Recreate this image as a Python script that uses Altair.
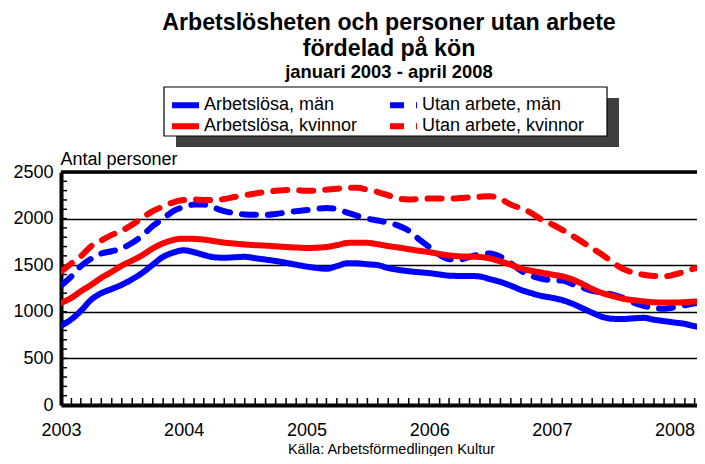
import altair as alt
import pandas as pd

# ---- data ----
months = pd.date_range("2003-01-01", "2008-04-01", freq="MS").strftime("%Y-%m-%d").tolist()

arbetslosa_man = [850, 920, 1010, 1130, 1200, 1245, 1290, 1350, 1420, 1505, 1590, 1635,
                  1660, 1640, 1610, 1585, 1580, 1585, 1590, 1575, 1560, 1545, 1525, 1505,
                  1485, 1470, 1462, 1490, 1520, 1520, 1510, 1500, 1470, 1450, 1435, 1425,
                  1415, 1400, 1388, 1385, 1385, 1378, 1350, 1320, 1280, 1235, 1200, 1170,
                  1150, 1125, 1090, 1040, 990, 945, 925, 922, 930, 935, 915, 900,
                  885, 870, 845, 825]
arbetslosa_kvinnor = [1095, 1150, 1220, 1290, 1365, 1430, 1495, 1550, 1610, 1680, 1735, 1770,
                      1785, 1782, 1775, 1758, 1742, 1732, 1722, 1715, 1710, 1703, 1695, 1690,
                      1685, 1688, 1695, 1715, 1738, 1742, 1740, 1725, 1705, 1690, 1672, 1655,
                      1640, 1620, 1605, 1595, 1592, 1588, 1572, 1540, 1505, 1465, 1440, 1420,
                      1400, 1380, 1350, 1300, 1245, 1200, 1170, 1140, 1125, 1112, 1102, 1100,
                      1100, 1103, 1110, 1115]
utan_arbete_man = [1280, 1380, 1490, 1570, 1625, 1650, 1680, 1740, 1820, 1920, 2000, 2080,
                   2125, 2150, 2150, 2115, 2080, 2058, 2045, 2040, 2040, 2050, 2065, 2080,
                   2092, 2105, 2115, 2100, 2065, 2030, 2000, 1980, 1955, 1925, 1870, 1780,
                   1695, 1610, 1565, 1560, 1590, 1615, 1625, 1590, 1520, 1440, 1385, 1355,
                   1340, 1335, 1300, 1260, 1225, 1205, 1185, 1150, 1100, 1065, 1040, 1032,
                   1050, 1070, 1090, 1110]
utan_arbete_kvinnor = [1430, 1520, 1595, 1705, 1765, 1825, 1870, 1935, 2010, 2080, 2130, 2175,
                       2200, 2205, 2200, 2198, 2210, 2232, 2250, 2270, 2285, 2298, 2308, 2305,
                       2300, 2300, 2310, 2320, 2332, 2330, 2310, 2285, 2250, 2215, 2205, 2210,
                       2215, 2215, 2215, 2220, 2228, 2235, 2240, 2210, 2150, 2110, 2060, 1990,
                       1940, 1880, 1820, 1750, 1680, 1610, 1530, 1460, 1420, 1398, 1385, 1380,
                       1400, 1430, 1465, 1490]

# two legend rows: men (blue) and women (red); solid = arbetslösa, dashed = utan arbete
men_names = ["Arbetslösa, män", "Utan arbete, män"]
women_names = ["Arbetslösa, kvinnor", "Utan arbete, kvinnor"]
men_values = [arbetslosa_man, utan_arbete_man]
women_values = [arbetslosa_kvinnor, utan_arbete_kvinnor]
men_colors = ["#0000ff", "#0000ff"]
women_colors = ["#ff0000", "#ff0000"]
dash_styles = [[1, 0], [14, 12]]

y_labels = [0, 500, 1000, 1500, 2000, 2500]
y_minor_ticks = list(range(0, 2501, 100))
year_labels = ["2003-01-01", "2004-01-01", "2005-01-01", "2006-01-01", "2007-01-01", "2008-01-01"]
# visible time window (the picture is cut off at its right edge shortly before April 2008)
x_window = ["2003-01-01", "2008-03-08"]


def long_table(names, values):
    rows = []
    for name, vals in zip(names, values):
        for m, v in zip(months, vals):
            rows.append({"month": m, "value": v, "serie": name})
    return pd.DataFrame(rows)


df_men = long_table(men_names, men_values)
df_women = long_table(women_names, women_values)

FONT = "Liberation Sans"
W, H = 636, 233

xscale = alt.Scale(domain=x_window)
yscale = alt.Scale(domain=[0, 2500], nice=False)


def make_legend(legend_y, col_pad):
    return alt.Legend(
        orient="none", legendX=108, legendY=legend_y, direction="horizontal", title=None, padding=0,
        labelFont=FONT, labelFontSize=18, labelColor="black", labelOffset=8, labelLimit=400,
        symbolType="M-1.8,0L1.8,0", symbolStrokeWidth=6, symbolSize=225, symbolOffset=6,
        columnPadding=col_pad,
    )


x_axis = alt.Axis(
    values=year_labels, format="%Y", labelFont=FONT, labelFontSize=18, labelColor="black",
    labelPadding=16, labelFlush=False, ticks=False, tickSize=0, grid=False,
    domainColor="black", domainWidth=4,
    title="Källa: Arbetsförmedlingen Kultur", titleFont=FONT, titleFontSize=14.5,
    titleFontWeight="normal", titleColor="black", titleX=330, titleY=48,
    titleBaseline="alphabetic",
    labelOverlap=False,
)
y_axis = alt.Axis(
    values=y_labels, format="d", labelFont=FONT, labelFontSize=18, labelColor="black",
    labelPadding=8, ticks=False, tickSize=0, grid=True, gridColor="black", gridWidth=1.5,
    domainColor="black", domainWidth=4,
    title="Antal personer", titleFont=FONT, titleFontSize=18, titleFontWeight="normal",
    titleColor="black", titleAngle=0, titleAlign="left", titleBaseline="alphabetic",
    titleX=-1, titleY=-8,
)

one = pd.DataFrame({"a": [0]})
shadow = alt.Chart(one).mark_rect(color="#404040").encode(
    x=alt.value(115), x2=alt.value(558), y=alt.value(-74), y2=alt.value(-25)
)
legend_box = alt.Chart(one).mark_rect(fill="white", stroke="black", strokeWidth=1.2).encode(
    x=alt.value(103), x2=alt.value(546), y=alt.value(-85), y2=alt.value(-36)
)

minor_y = alt.Chart(pd.DataFrame({"value": y_minor_ticks})).mark_rule(color="black", strokeWidth=1.5).encode(
    y=alt.Y("value:Q", scale=yscale, axis=y_axis), x=alt.value(0), x2=alt.value(6)
)
minor_x = alt.Chart(pd.DataFrame({"month": months})).mark_rule(color="black", strokeWidth=1.5, clip=True).encode(
    x=alt.X("month:T", scale=xscale, axis=x_axis), y=alt.value(H), y2=alt.value(H - 7)
)
top_rule = alt.Chart(pd.DataFrame({"value": [2500]})).mark_rule(color="black", strokeWidth=3.5).encode(
    y=alt.Y("value:Q", scale=yscale, axis=y_axis)
)


def series_group(data, names, colors, legend_obj, order):
    layers = []
    for name in order:
        layers.append(
            alt.Chart(data).transform_filter(alt.datum.serie == name).mark_line(
                strokeWidth=6, interpolate="monotone", strokeCap="round", clip=True
            ).encode(
                x=alt.X("month:T", scale=xscale, axis=x_axis),
                y=alt.Y("value:Q", scale=yscale, axis=y_axis),
                color=alt.Color("serie:N", scale=alt.Scale(domain=names, range=colors), legend=legend_obj),
                strokeDash=alt.StrokeDash("serie:N", scale=alt.Scale(domain=names, range=dash_styles),
                                          legend=legend_obj),
            )
        )
    return alt.layer(*layers)


men_layer = series_group(df_men, men_names, men_colors, make_legend(-77.5, 43),
                         ["Utan arbete, män", "Arbetslösa, män"])
women_layer = series_group(df_women, women_names, women_colors, make_legend(-56.5, 20),
                           ["Arbetslösa, kvinnor", "Utan arbete, kvinnor"])

lines = alt.layer(men_layer, women_layer).resolve_scale(
    color="independent", strokeDash="independent"
).resolve_legend(color="independent", strokeDash="independent")

chart = alt.layer(shadow, legend_box, minor_y, minor_x, top_rule, lines).properties(
    width=W, height=H,
    autosize="none",
    padding={"left": 53, "top": 164, "right": 0, "bottom": 51},
    title=alt.TitleParams(
        text=["Arbetslösheten och personer utan arbete", "fördelad på kön"],
        subtitle="januari 2003 - april 2008",
        font=FONT, fontSize=23.2, fontWeight="bold", color="black", lineHeight=26,
        subtitleFont=FONT, subtitleFontSize=18.4, subtitleFontWeight="bold", subtitleColor="black",
        subtitlePadding=2, anchor="middle", dx=10, offset=4,
    ),
).configure_view(stroke=None).configure(background="white")

chart.save("out.html", embed_options={"renderer": "svg", "actions": False})
